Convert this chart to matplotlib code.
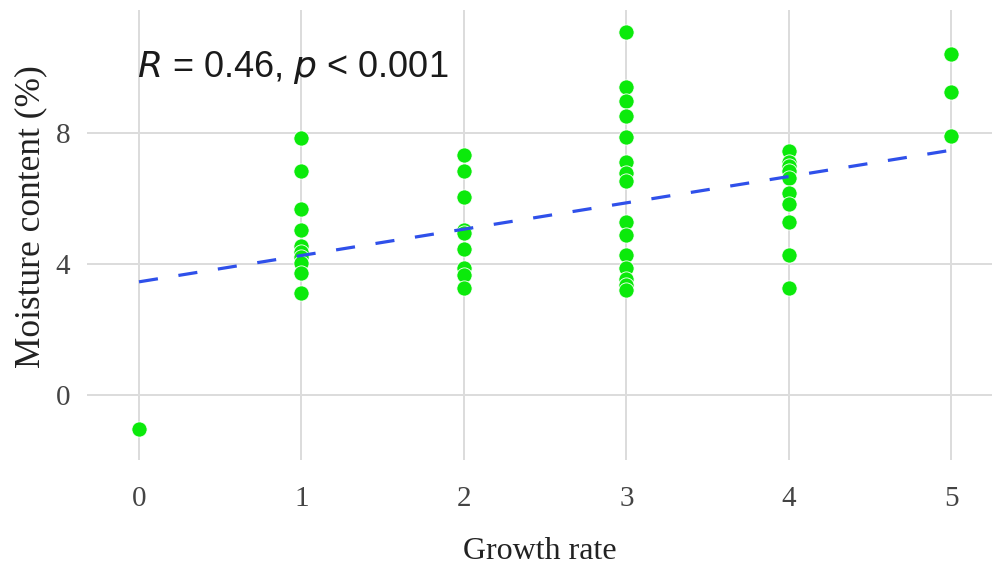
import matplotlib
matplotlib.use("Agg")
import matplotlib.pyplot as plt
import numpy as np

# Data
growth_levels = [0, 1, 2, 3, 4, 5]
moisture_g0 = [-1.02]
moisture_g1 = [7.86, 6.85, 5.69, 5.05, 4.56, 4.38, 4.21, 4.05, 3.73, 3.12]
moisture_g2 = [7.34, 6.83, 6.05, 5.05, 4.95, 4.46, 3.87, 3.67, 3.28]
moisture_g3 = [11.1, 9.41, 8.97, 8.53, 7.88, 7.13, 6.78, 6.55, 5.30, 4.89,
               4.28, 3.87, 3.54, 3.35, 3.21]
moisture_g4 = [7.47, 7.13, 7.0, 6.83, 6.63, 6.17, 5.84, 5.30, 4.28, 3.28]
moisture_g5 = [10.43, 9.26, 7.9]

fit_x = [0, 5]
fit_y = [3.46, 7.48]

annotation = "$\\it{R}$ = 0.46, $\\it{p}$ < 0.001"
x_ticks = [0, 1, 2, 3, 4, 5]
y_ticks = [0, 4, 8]

groups = [moisture_g0, moisture_g1, moisture_g2, moisture_g3, moisture_g4, moisture_g5]
xs = np.concatenate([[g] * len(v) for g, v in zip(growth_levels, groups)])
ys = np.concatenate(groups)

fig = plt.figure(figsize=(9.96, 5.65), dpi=100)
ax = fig.add_axes([87 / 996, 105 / 565, 905 / 996, 450 / 565])

ax.set_xlim(-0.32, 5.25)
ax.set_ylim(-1.98, 11.76)

for s in ax.spines.values():
    s.set_visible(False)
ax.set_xticks(x_ticks)
ax.set_yticks(y_ticks)
ax.grid(True, color="#DCDCDC", linewidth=1.4, zorder=0)
ax.set_axisbelow(True)
ax.tick_params(length=0, labelsize=21, labelcolor="#444444")
ax.tick_params(axis="x", pad=19)
ax.tick_params(axis="y", pad=12)
for lab in ax.get_xticklabels() + ax.get_yticklabels():
    lab.set_fontfamily("Liberation Serif")

ax.scatter(xs, ys, s=120, color="#0BEA0B", edgecolors="white", linewidths=0.6, zorder=3)
ax.plot(fit_x, fit_y, color="#2F50EA", linewidth=2.3, linestyle=(0, (6, 6.5)),
        zorder=4, solid_capstyle="butt")

ax.text(-0.01, 10.0, annotation, ha="left", va="center", fontsize=26,
        family="Liberation Sans", color="#1a1a1a",
        math_fontfamily="custom")

ax.set_xlabel("Growth rate", fontsize=23, family="Liberation Serif", color="#222222", labelpad=18)
ax.set_ylabel("Moisture content (%)", fontsize=25.5, family="Liberation Serif", color="#222222")
ax.yaxis.set_label_coords(-0.044, 0.54)

fig.savefig("out.png", dpi=100)
